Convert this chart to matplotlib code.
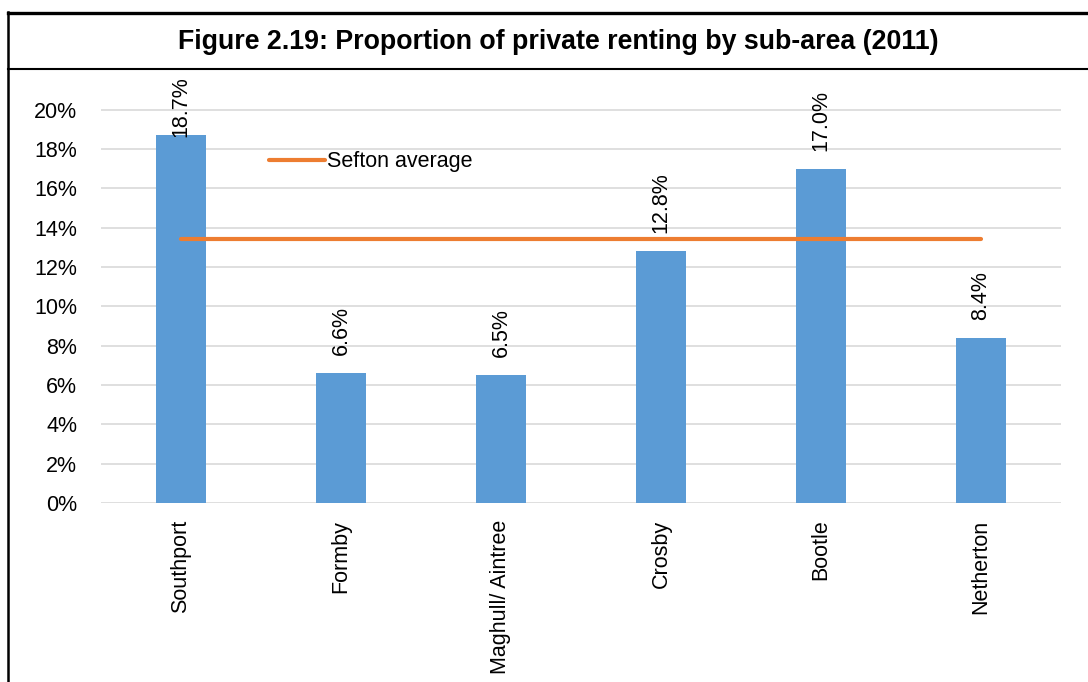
import matplotlib
matplotlib.use("Agg")
import matplotlib.pyplot as plt
from matplotlib.lines import Line2D

# Data
areas = ["Southport", "Formby", "Maghull/ Aintree", "Crosby", "Bootle", "Netherton"]
private_renting = [18.7, 6.6, 6.5, 12.8, 17.0, 8.4]
sefton_average = 13.4
y_ticks = [0, 2, 4, 6, 8, 10, 12, 14, 16, 18, 20]

BAR_BLUE = "#5B9BD5"
LINE_ORANGE = "#ED7D31"
GRID_GREY = "#D9D9D9"

plt.rcParams["font.family"] = ["Liberation Sans", "DejaVu Sans"]
FS = 15.5

fig = plt.figure(figsize=(10.88, 6.82), dpi=100)
ax = fig.add_axes([0.0928, 0.2625, 0.8824, 0.6202])

x = list(range(len(areas)))
ax.bar(x, private_renting, width=0.31, color=BAR_BLUE, zorder=2)
ax.plot([x[0], x[-1]], [sefton_average] * 2, color=LINE_ORANGE, lw=3,
        solid_capstyle="round", zorder=3, label="Sefton average")

# value labels, kept inside the plot area like Excel does
for xi, v in zip(x, private_renting):
    ax.text(xi, min(v + 0.9, 18.6), f"{v:.1f}%", rotation=90,
            ha="center", va="bottom", fontsize=FS, zorder=4)

ax.set_xlim(-0.5, len(areas) - 0.5)
ax.set_ylim(0, 21.5)
ax.set_yticks(y_ticks)
ax.set_yticklabels([f"{t}%" for t in y_ticks])
ax.set_xticks(x)
ax.set_xticklabels(areas, rotation=90, va="top", ha="center")
ax.tick_params(axis="both", length=0, labelsize=FS)
ax.tick_params(axis="x", pad=12)
ax.tick_params(axis="y", pad=17)

ax.grid(axis="y", color=GRID_GREY, lw=1.2, zorder=0)
for s in ax.spines.values():
    s.set_visible(False)

ax.legend(loc="center left", bbox_to_anchor=(0.247, 0.7625),
          bbox_transform=fig.transFigure, frameon=False, fontsize=FS,
          handlelength=2.6, handletextpad=0.1, borderpad=0, borderaxespad=0)

# title box
fig.text(0.513, 0.938, "Figure 2.19: Proportion of private renting by sub-area (2011)",
         ha="center", va="center", fontsize=19.3, fontweight="bold")
fig.add_artist(Line2D([0.0074, 1], [0.981, 0.981], color="black", lw=2.4))
fig.add_artist(Line2D([0.0074, 1], [0.899, 0.899], color="black", lw=1.5))
fig.add_artist(Line2D([0.0074, 0.0074], [0, 0.982], color="black", lw=1.8))

fig.savefig("out.png", dpi=100)
